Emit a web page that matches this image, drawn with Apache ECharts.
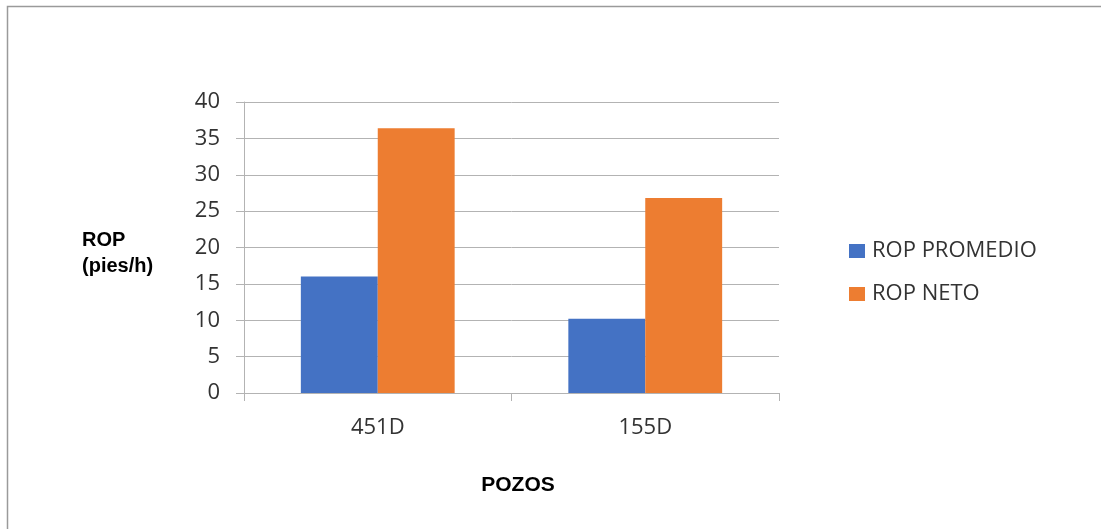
<!DOCTYPE html>
<html>
<head>
<meta charset="utf-8">
<script src="https://cdn.jsdelivr.net/npm/echarts@6/dist/echarts.min.js"></script>
<style>
  html, body { margin: 0; padding: 0; background: #fff; }
  #chart { width: 1101px; height: 529px; }
</style>
</head>
<body>
<div id="chart"></div>
<script>
// Wells and rate of penetration values (ft/h)
const pozos = ['451D', '155D'];
const ropPromedio = [16.0, 10.2];
const ropNeto = [36.4, 26.8];
const seriesNames = ['ROP PROMEDIO', 'ROP NETO'];
const yTitle = 'ROP\n(pies/h)';
const xTitle = 'POZOS';

const tickFont = { fontFamily: 'Open Sans', fontSize: 22, color: '#333333' };
const gridGray = '#b3b3b3';

const chart = echarts.init(document.getElementById('chart'), null, { renderer: 'canvas' });
chart.setOption({
  animation: false,
  backgroundColor: '#ffffff',
  graphic: [{
    type: 'rect',
    shape: { x: 7.5, y: 6.5, width: 1200, height: 600 },
    style: { fill: 'none', stroke: '#9a9a9a', lineWidth: 1.5 },
    silent: true
  }],
  // vertical axis caption, placed left of the tick labels
  title: {
    text: yTitle,
    left: 82,
    top: 227,
    padding: 0,
    textStyle: {
      fontFamily: 'Liberation Sans', fontWeight: 'bold', fontSize: 20, color: '#000000', lineHeight: 26
    }
  },
  grid: { left: 244, right: 322, top: 102, bottom: 136 },
  legend: {
    orient: 'vertical',
    left: 849,
    top: 239,
    padding: 0,
    itemWidth: 16,
    itemHeight: 14,
    itemGap: 19,
    icon: 'rect',
    data: seriesNames,
    textStyle: { fontFamily: 'Open Sans', fontSize: 22, color: '#333333', lineHeight: 24, padding: [0, 0, 0, 2] }
  },
  xAxis: {
    type: 'category',
    data: pozos,
    name: xTitle,
    nameLocation: 'middle',
    nameGap: 82,
    nameTextStyle: {
      fontFamily: 'Liberation Sans', fontWeight: 'bold', fontSize: 21, color: '#000000',
      padding: [0, 0, 0, 13]
    },
    axisLine: { show: true, lineStyle: { color: gridGray, width: 1 } },
    axisTick: { show: true, length: 8, lineStyle: { color: gridGray } },
    axisLabel: Object.assign({ margin: 24 }, tickFont),
    splitLine: { show: false }
  },
  yAxis: {
    type: 'value',
    min: 0,
    max: 40,
    interval: 5,
    axisLine: { show: true, lineStyle: { color: gridGray, width: 1 } },
    axisTick: { show: true, length: 8, lineStyle: { color: gridGray } },
    axisLabel: Object.assign({ margin: 24 }, tickFont),
    splitLine: { show: true, lineStyle: { color: gridGray, width: 1 } }
  },
  series: [
    {
      name: seriesNames[0],
      type: 'bar',
      data: ropPromedio,
      barGap: '0%',
      barCategoryGap: '42.5%',
      itemStyle: { color: '#4472C4' }
    },
    {
      name: seriesNames[1],
      type: 'bar',
      data: ropNeto,
      barGap: '0%',
      barCategoryGap: '42.5%',
      itemStyle: { color: '#ED7D31' }
    }
  ]
});
</script>
</body>
</html>
